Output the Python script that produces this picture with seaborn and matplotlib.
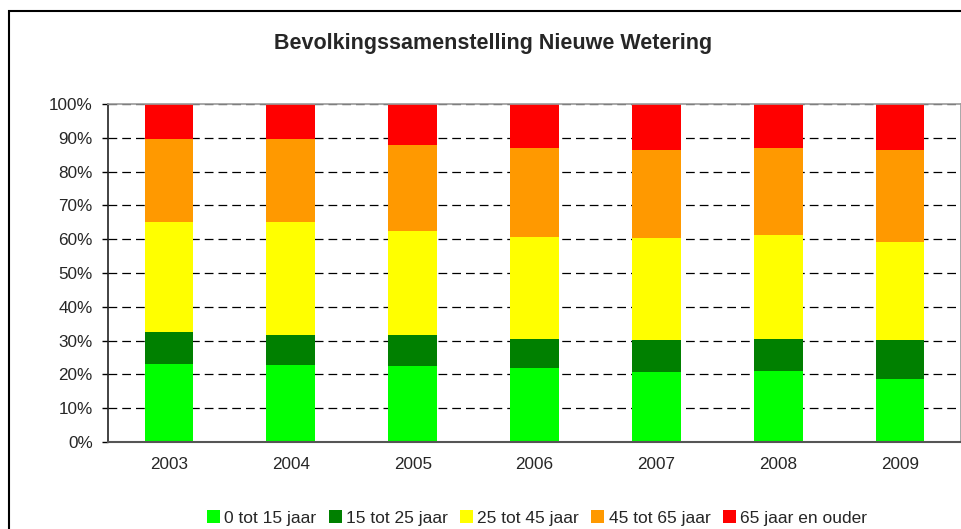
import numpy as np
import pandas as pd
import matplotlib
matplotlib.use("Agg")
import matplotlib.pyplot as plt
import seaborn as sns
from matplotlib.patches import Patch, Rectangle
from matplotlib.ticker import FixedLocator

years = ["2003", "2004", "2005", "2006", "2007", "2008", "2009"]
groups = ["0 tot 15 jaar", "15 tot 25 jaar", "25 tot 45 jaar", "45 tot 65 jaar", "65 jaar en ouder"]
age_0_15 = [23.0, 22.7, 22.4, 21.8, 20.6, 20.9, 18.5]
age_15_25 = [9.5, 8.9, 9.2, 8.6, 9.5, 9.5, 11.6]
age_25_45 = [32.6, 33.5, 30.9, 30.3, 30.3, 30.9, 29.1]
age_45_65 = [24.4, 24.4, 25.5, 26.4, 26.1, 25.8, 27.3]
age_65_plus = [10.5, 10.5, 12.0, 12.9, 13.5, 12.9, 13.5]
colors = ["#00FF00", "#008000", "#FFFF00", "#FF9900", "#FF0000"]
ytick_labels = ["0%", "10%", "20%", "30%", "40%", "50%", "60%", "70%", "80%", "90%", "100%"]

sns.set_style("white")
plt.rcParams["font.family"] = ["Liberation Sans", "DejaVu Sans"]

data = pd.DataFrame({"Jaar": years})
series = [age_0_15, age_15_25, age_25_45, age_45_65, age_65_plus]
for g, s in zip(groups, series):
    data[g] = s
# normalise to 100% stacked
totals = data[groups].sum(axis=1)
cum = data[groups].div(totals, axis=0).mul(100).cumsum(axis=1)

fig = plt.figure(figsize=(9.62, 5.29), dpi=100)
ax = fig.add_axes([108 / 962, 1 - 442 / 529, (961 - 108) / 962, (442 - 104) / 529])

# draw tallest stack first, smaller cumulative bars on top
for g, c in reversed(list(zip(groups, colors))):
    sns.barplot(x=data["Jaar"], y=cum[g], color=c, width=0.4, saturation=1,
                linewidth=0, ax=ax)

ax.set_xlim(-0.5, len(years) - 0.5)
ax.set_ylim(0, 100)
ax.set_xlabel("")
ax.set_ylabel("")
ax.set_axisbelow(True)

ax.set_yticks(np.arange(0, 101, 10))
ax.set_yticklabels(ytick_labels)
ax.yaxis.grid(True, linestyle=(0, (7, 4)), color="black", linewidth=0.9)
ax.xaxis.grid(False)

ax.xaxis.set_minor_locator(FixedLocator(np.arange(-0.5, len(years), 1.0)))
ax.tick_params(axis="x", which="major", length=0, pad=11, labelsize=12.3)
ax.tick_params(axis="x", which="minor", length=5, width=1, color="#333333", direction="out")
ax.tick_params(axis="y", length=4, width=1, color="black", direction="out", pad=7, labelsize=12.3, left=True)

for side in ["top", "right"]:
    ax.spines[side].set_visible(True)
    ax.spines[side].set_color("#999999")
    ax.spines[side].set_linewidth(1.2)
ax.spines["left"].set_color("#222222")
ax.spines["bottom"].set_color("#555555")
ax.spines["left"].set_linewidth(1.2)
ax.spines["bottom"].set_linewidth(1.5)

fig.text(493 / 962, 1 - 43 / 529, "Bevolkingssamenstelling Nieuwe Wetering",
         ha="center", va="center", fontsize=15.5, fontweight="bold")

# outer chart border
fig.patches.append(Rectangle((9 / 962, -0.1), 1.1, 1.1 - 11 / 529, transform=fig.transFigure,
                             fill=False, edgecolor="black", linewidth=1.5, zorder=0))

handles = [Patch(facecolor=c, edgecolor="none") for c in colors]
fig.legend(handles, groups, loc="center", bbox_to_anchor=(537 / 962, 1 - 518 / 529), ncol=5,
           frameon=False, fontsize=12.5, handlelength=0.75, handleheight=0.75,
           handletextpad=0.25, columnspacing=0.7, borderpad=0)

fig.savefig("out.png", dpi=100)
